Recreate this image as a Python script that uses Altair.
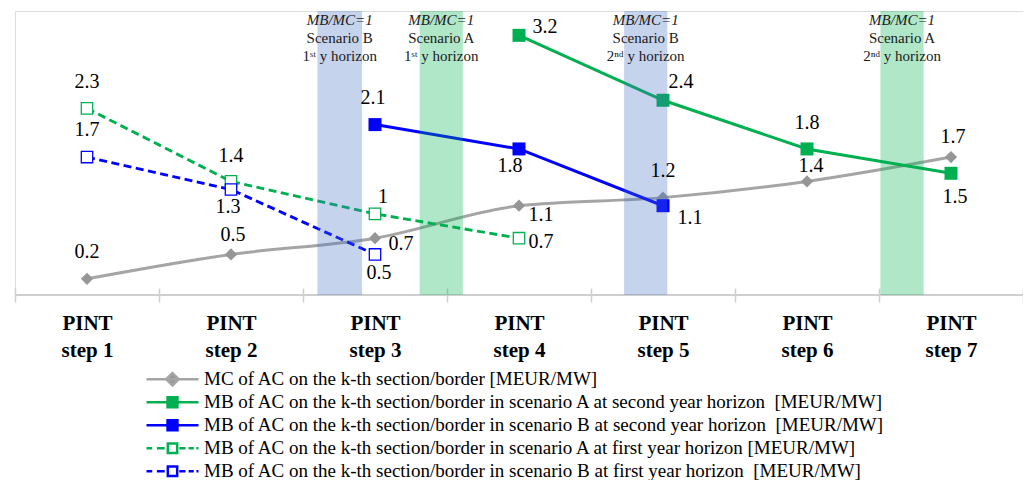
import json
import altair as alt
import pandas as pd

# ---------------- data ----------------
step_numbers = [1, 2, 3, 4, 5, 6, 7]
step_label_lines = [["PINT", "step 1"], ["PINT", "step 2"], ["PINT", "step 3"],
                    ["PINT", "step 4"], ["PINT", "step 5"], ["PINT", "step 6"],
                    ["PINT", "step 7"]]

series_names = [
    "MC of AC on the k-th section/border [MEUR/MW]",
    "MB of AC on the k-th section/border in scenario A at second year horizon \u00a0[MEUR/MW]",
    "MB of AC on the k-th section/border in scenario B at second year horizon \u00a0[MEUR/MW]",
    "MB of AC on the k-th section/border in scenario A at first year horizon [MEUR/MW]",
    "MB of AC on the k-th section/border in scenario B at first year horizon \u00a0[MEUR/MW]",
]

mc_steps = [1, 2, 3, 4, 5, 6, 7]
mc_values = [0.2, 0.5, 0.7, 1.1, 1.2, 1.4, 1.7]

a2_steps = [4, 5, 6, 7]
a2_values = [3.2, 2.4, 1.8, 1.5]

b2_steps = [3, 4, 5]
b2_values = [2.1, 1.8, 1.1]

a1_steps = [1, 2, 3, 4]
a1_values = [2.3, 1.4, 1.0, 0.7]

b1_steps = [1, 2, 3]
b1_values = [1.7, 1.3, 0.5]

# shaded MB/MC=1 bands (in step units)
band_start = [2.60, 3.31, 4.73, 6.51]
band_end = [2.91, 3.61, 5.03, 6.81]
band_title = ["MB/MC=1", "MB/MC=1", "MB/MC=1", "MB/MC=1"]
band_scenario = ["Scenario B", "Scenario A", "Scenario B", "Scenario A"]
band_horizon = ["1\u02e2\u1d57 y horizon", "1\u02e2\u1d57 y horizon",
                "2\u207f\u1d48 y horizon", "2\u207f\u1d48 y horizon"]
band_kind = ["B", "A", "B", "A"]

# ---------------- label placement (pixel offsets) ----------------
label_offsets = [
    ([0, 2, 26, 22, 0, 4, 2], [-27, -19, 6, 9, -27, -15, -20]),
    ([26, 18, 0, 4], [-8, -18, -26, 24]),
    ([-2, -9, 27], [-27, 17, 12]),
    ([0, 0, 8, 22], [-26, -25, -17, 4]),
    ([0, -3, 4], [-27, 17, 19]),
]

# ---------------- styles ----------------
GRAY_LINE = "#A5A5A5"
GRAY_PT = "#969696"
GREEN = "#00B050"
BLUE = "#0000FF"
FONT = "Liberation Serif"

styles = [
    dict(color=GRAY_LINE, width=3, dash=None, shape="diamond", fill=GRAY_PT, stroke=GRAY_PT, sw=0, size=150, interp="monotone"),
    dict(color=GREEN, width=3, dash=None, shape="square", fill=GREEN, stroke=GREEN, sw=0, size=169, interp="linear"),
    dict(color=BLUE, width=3, dash=None, shape="square", fill=BLUE, stroke=BLUE, sw=0, size=169, interp="linear"),
    dict(color=GREEN, width=2.9, dash=[8, 4.5], shape="square", fill="white", stroke=GREEN, sw=1.3, size=130, interp="linear"),
    dict(color=BLUE, width=2.9, dash=[8, 4.5], shape="square", fill="white", stroke=BLUE, sw=1.3, size=130, interp="linear"),
]

series_steps = [mc_steps, a2_steps, b2_steps, a1_steps, b1_steps]
series_values = [mc_values, a2_values, b2_values, a1_values, b1_values]

W, H = 1008, 284

xscale = alt.Scale(domain=[0.5, 7.5], nice=False, zero=False)
yscale = alt.Scale(domain=[0, 3.5], nice=False, zero=False)

label_expr = json.dumps(step_label_lines) + "[datum.value - 0.5] || ''"
xaxis = alt.Axis(
    values=[0.5, 1.5, 2.5, 3.5, 4.5, 5.5, 6.5, 7.5],
    labelExpr=label_expr, labelOffset=72, labelOverlap=False, labelFlush=False,
    labelFont=FONT, labelFontWeight="bold", labelFontSize=21, labelColor="black",
    labelLineHeight=27, labelPadding=10, labelBaseline="top",
    tickSize=14, tickColor="#CFCFCF", tickWidth=1.5, offset=-7,
    domain=False, grid=False, title=None,
)


def X(field):
    return alt.X(field, type="quantitative", scale=xscale, axis=xaxis)


def Y(field):
    return alt.Y(field, type="quantitative", scale=yscale, axis=None)


layers = []

# baseline
base_df = pd.DataFrame({"y0": [0]})
layers.append(
    alt.Chart(base_df).mark_rule(color="#CFCFCF", strokeWidth=2).encode(y=Y("y0"))
)

frames = []
for i, name in enumerate(series_names):
    frames.append(pd.DataFrame({
        "step": series_steps[i],
        "value": series_values[i],
        "label": [f"{v:g}" for v in series_values[i]],
    }))

# lines
for i, df in enumerate(frames):
    s = styles[i]
    kw = dict(color=s["color"], strokeWidth=s["width"], interpolate=s["interp"])
    if s["dash"]:
        kw["strokeDash"] = s["dash"]
    layers.append(alt.Chart(df).mark_line(**kw).encode(x=X("step"), y=Y("value")))

# markers
for i, df in enumerate(frames):
    s = styles[i]
    layers.append(
        alt.Chart(df).mark_point(
            shape=s["shape"], size=s["size"], filled=True, fill=s["fill"],
            stroke=s["stroke"], strokeWidth=s["sw"], opacity=1,
        ).encode(x=X("step"), y=Y("value"))
    )

# bands (semi-transparent overlay)
band_df = pd.DataFrame({
    "start": band_start, "end": band_end, "kind": band_kind,
    "t1": band_title, "t2": band_scenario, "t3": band_horizon,
})
layers.append(
    alt.Chart(band_df).mark_rect(opacity=0.31).encode(
        x=X("start"), x2="end",
        color=alt.Color("kind:N", scale=alt.Scale(domain=["A", "B"], range=["#00B050", "#4472C4"]), legend=None),
    )
)

# data labels (one layer per label so each gets its own offset)
for i, df in enumerate(frames):
    dxs, dys = label_offsets[i]
    for j in range(len(df)):
        layers.append(
            alt.Chart(df.iloc[[j]]).mark_text(
                font=FONT, fontSize=20, color="black", baseline="middle", align="center",
                dx=dxs[j], dy=dys[j],
            ).encode(x=X("step"), y=Y("value"), text="label:N")
        )

# band annotations
ann_base = alt.Chart(band_df).transform_calculate(
    mid="(datum.start + datum.end) / 2",
    lines="[datum.t2, datum.t3]",
)
layers.append(
    ann_base.mark_text(font=FONT, fontSize=15, fontStyle="italic", color="#1a1a1a", baseline="top", align="center", dy=2).encode(
        x=X("mid"), y=alt.datum(3.5), text="t1:N")
)
layers.append(
    ann_base.mark_text(font=FONT, fontSize=15, color="#1a1a1a", baseline="top", align="center", dy=20, lineHeight=18).encode(
        x=X("mid"), y=alt.datum(3.5), text="lines:N")
)

# legend layer (clipped, invisible points; only produces the legend)
leg_paths = [
    "M-1,0L1,0M0,-0.24L0.24,0L0,0.24L-0.24,0Z",
    "M-1,0L1,0M-0.19,-0.19L0.19,-0.19L0.19,0.19L-0.19,0.19Z",
    "M-1,0L1,0M-0.19,-0.19L0.19,-0.19L0.19,0.19L-0.19,0.19Z",
    "M-1,0L-0.78,0M-0.6,0L-0.3,0M-0.18,-0.18L0.18,-0.18L0.18,0.18L-0.18,0.18ZM0.26,0L0.5,0M0.62,0L0.82,0M0.92,0L1,0",
    "M-1,0L-0.78,0M-0.6,0L-0.3,0M-0.18,-0.18L0.18,-0.18L0.18,0.18L-0.18,0.18ZM0.26,0L0.5,0M0.62,0L0.82,0M0.92,0L1,0",
]
leg_stroke = [GRAY_LINE, GREEN, BLUE, GREEN, BLUE]
leg_fill = [GRAY_PT, GREEN, BLUE, "white", "white"]
leg_df = pd.DataFrame({"series": series_names})
legend = alt.Legend(
    title=None, orient="none", legendX=130, legendY=357, direction="vertical",
    symbolSize=2704, symbolStrokeWidth=2.5, symbolOpacity=1,
    labelFont=FONT, labelFontSize=19, labelColor="black", labelLimit=900,
    labelOffset=4, clipHeight=22.5, rowPadding=0, padding=0,
)
layers.append(
    alt.Chart(leg_df).mark_point(size=2704, clip=True, filled=False).encode(
        x=alt.datum(-100), y=alt.datum(-100),
        shape=alt.Shape("series:N", scale=alt.Scale(domain=series_names, range=leg_paths), legend=legend, sort=series_names),
        stroke=alt.Stroke("series:N", scale=alt.Scale(domain=series_names, range=leg_stroke), legend=legend, sort=series_names),
        fill=alt.Fill("series:N", scale=alt.Scale(domain=series_names, range=leg_fill), legend=legend, sort=series_names),
    )
)

chart = alt.layer(*layers).properties(
    width=W, height=H,
    autosize=alt.AutoSizeParams(type="none"),
    padding={"left": 7, "top": 3, "right": 0, "bottom": 185},
    background="white",
).configure_view(stroke=None).configure(font=FONT)

chart.save("out.html", embed_options={"renderer": "svg", "actions": False})
